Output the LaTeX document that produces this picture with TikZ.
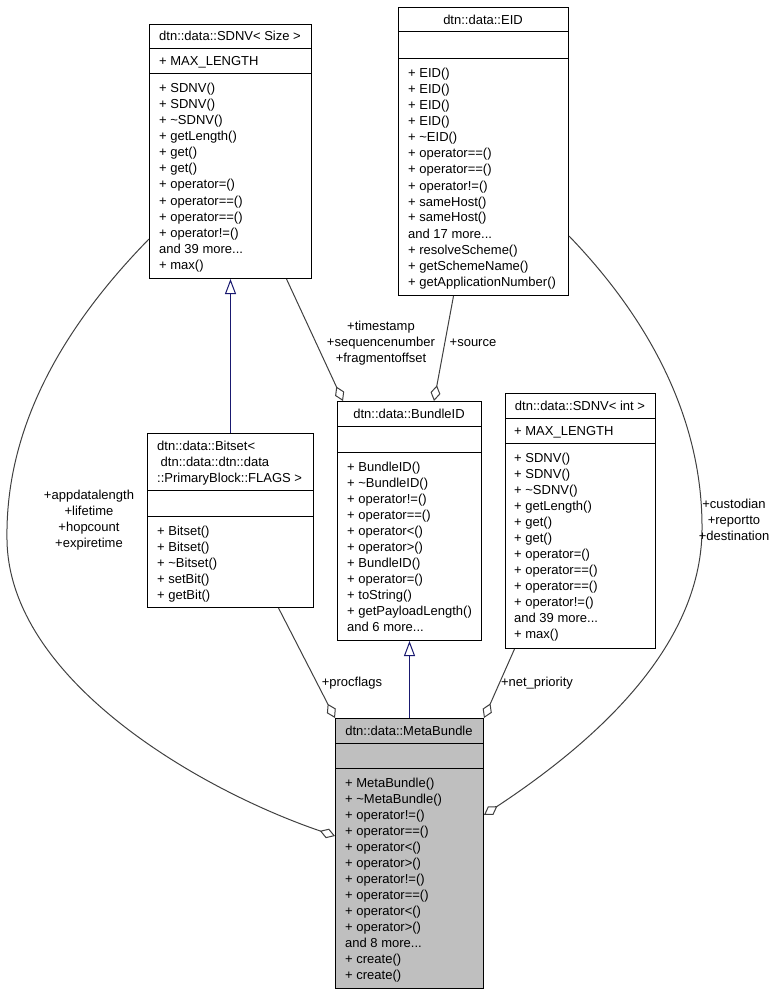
\documentclass[tikz,border=0pt]{standalone}
\usepackage{fontspec}
\setmainfont{Liberation Sans}
\usetikzlibrary{arrows.meta}
\definecolor{edgegray}{HTML}{404040}
\definecolor{inhblue}{HTML}{191970}
\definecolor{metafill}{HTML}{BFBFBF}
\newcounter{lcnt}
\newcommand\fsz{\fontsize{13}{16}\selectfont}
\newcommand\Lstart[3]{\gdef\Lpre{#1}\gdef\Lx{#2}\gdef\Ly{#3}\setcounter{lcnt}{0}}
\newcommand\Litem[1]{\stepcounter{lcnt}\node[txt] (\Lpre\arabic{lcnt}) at (\Lx,\Ly) {#1};\pgfmathsetmacro\Ltmp{\Ly+16}\global\let\Ly\Ltmp}
\begin{document}
\begin{tikzpicture}[x=1pt,y=-1pt,
  box/.style={draw=black, fill=white, line width=1pt, inner sep=0pt, anchor=north west},
  sepline/.style={draw=black, line width=1pt},
  txt/.style={inner sep=0pt, anchor=base west, font=\fsz},
  ttl/.style={inner sep=0pt, anchor=base, font=\fsz},
  lbl/.style={inner sep=0pt, align=center, font=\fsz},
  inh/.style={draw=inhblue, line width=1pt, -{Triangle[fill=white, length=15pt, width=11pt]}},
  agg/.style={draw=edgegray, line width=1pt, -{Diamond[fill=white, length=16pt, width=10pt]}}]
\useasboundingbox (0,0) rectangle (775,995);

% ---------- SDNV< Size >
\node[box, minimum width=162pt, minimum height=254pt] (sS) at (149,24) {};
\draw[sepline] ([yshift=-25pt]sS.north west) -- ([yshift=-25pt]sS.north east);
\draw[sepline] ([yshift=-50pt]sS.north west) -- ([yshift=-50pt]sS.north east);
\node[ttl] (sSt) at (230,41) {dtn::data::SDNV< Size >};
\node[txt] (sSa) at (159,66) {+ MAX\_LENGTH};
\Lstart{sSm}{159}{93}
\Litem{+ SDNV()}\Litem{+ SDNV()}\Litem{+ \textasciitilde SDNV()}\Litem{+ getLength()}
\Litem{+ get()}\Litem{+ get()}\Litem{+ operator=()}\Litem{+ operator==()}
\Litem{+ operator==()}\Litem{+ operator!=()}\Litem{and 39 more...}\Litem{+ max()}

% ---------- EID
\node[box, minimum width=170pt, minimum height=288pt] (eid) at (398,7) {};
\draw[sepline] ([yshift=-25pt]eid.north west) -- ([yshift=-25pt]eid.north east);
\draw[sepline] ([yshift=-51.5pt]eid.north west) -- ([yshift=-51.5pt]eid.north east);
\node[ttl] (eidt) at (483,24.5) {dtn::data::EID};
\Lstart{eidm}{408}{78}
\Litem{+ EID()}\Litem{+ EID()}\Litem{+ EID()}\Litem{+ EID()}\Litem{+ \textasciitilde EID()}
\Litem{+ operator==()}\Litem{+ operator==()}\Litem{+ operator!=()}\Litem{+ sameHost()}
\Litem{+ sameHost()}\Litem{and 17 more...}\Litem{+ resolveScheme()}\Litem{+ getSchemeName()}
\Litem{+ getApplicationNumber()}

% ---------- Bitset
\node[box, minimum width=166pt, minimum height=174pt] (bitset) at (147,433) {};
\draw[sepline] ([yshift=-57pt]bitset.north west) -- ([yshift=-57pt]bitset.north east);
\draw[sepline] ([yshift=-83pt]bitset.north west) -- ([yshift=-83pt]bitset.north east);
\Lstart{btt}{157}{450}
\Litem{dtn::data::Bitset<}\Litem{\hspace*{3.5pt}dtn::data::dtn::data}\Litem{::PrimaryBlock::FLAGS >}
\Lstart{btm}{157}{535}
\Litem{+ Bitset()}\Litem{+ Bitset()}\Litem{+ \textasciitilde Bitset()}\Litem{+ setBit()}\Litem{+ getBit()}

% ---------- BundleID
\node[box, minimum width=144pt, minimum height=239pt] (bundle) at (337,401) {};
\draw[sepline] ([yshift=-25pt]bundle.north west) -- ([yshift=-25pt]bundle.north east);
\draw[sepline] ([yshift=-51pt]bundle.north west) -- ([yshift=-51pt]bundle.north east);
\node[ttl] (bundlet) at (409,418) {dtn::data::BundleID};
\Lstart{bdm}{347}{471}
\Litem{+ BundleID()}\Litem{+ \textasciitilde BundleID()}\Litem{+ operator!=()}\Litem{+ operator==()}
\Litem{+ operator<()}\Litem{+ operator>()}\Litem{+ BundleID()}\Litem{+ operator=()}
\Litem{+ toString()}\Litem{+ getPayloadLength()}\Litem{and 6 more...}

% ---------- SDNV< int >
\node[box, minimum width=150pt, minimum height=255pt] (sI) at (505,393) {};
\draw[sepline] ([yshift=-25pt]sI.north west) -- ([yshift=-25pt]sI.north east);
\draw[sepline] ([yshift=-50pt]sI.north west) -- ([yshift=-50pt]sI.north east);
\node[ttl] (sIt) at (580,410) {dtn::data::SDNV< int >};
\node[txt] (sIa) at (514,435) {+ MAX\_LENGTH};
\Lstart{sIm}{514}{462}
\Litem{+ SDNV()}\Litem{+ SDNV()}\Litem{+ \textasciitilde SDNV()}\Litem{+ getLength()}
\Litem{+ get()}\Litem{+ get()}\Litem{+ operator=()}\Litem{+ operator==()}
\Litem{+ operator==()}\Litem{+ operator!=()}\Litem{and 39 more...}\Litem{+ max()}

% ---------- MetaBundle
\node[box, fill=metafill, minimum width=148pt, minimum height=270pt] (meta) at (335,718) {};
\draw[sepline] ([yshift=-25pt]meta.north west) -- ([yshift=-25pt]meta.north east);
\draw[sepline] ([yshift=-50pt]meta.north west) -- ([yshift=-50pt]meta.north east);
\node[ttl] (metat) at (409,735) {dtn::data::MetaBundle};
\Lstart{mbm}{345}{787}
\Litem{+ MetaBundle()}\Litem{+ \textasciitilde MetaBundle()}\Litem{+ operator!=()}\Litem{+ operator==()}
\Litem{+ operator<()}\Litem{+ operator>()}\Litem{+ operator!=()}\Litem{+ operator==()}
\Litem{+ operator<()}\Litem{+ operator>()}\Litem{and 8 more...}\Litem{+ create()}\Litem{+ create()}

% ---------- connectors
\draw[inh] (bitset.north) -- (sS.south);
\draw[inh] (meta.north) -- (bundle.south);
\draw[agg] ([xshift=56pt]sS.south) -- ([xshift=6pt]bundle.north west);
\draw[agg] ([xshift=-30pt]eid.south) -- ([xshift=-48pt]bundle.north east);
\draw[agg] ([xshift=48pt]bitset.south) -- (meta.north west);
\draw[agg] ([xshift=-66pt]sI.south) -- (meta.north east);
\draw[agg] ([yshift=40pt]sS.south west) .. controls (60,330) and (5,430) .. (7,540)
  .. controls (9,680) and (200,790) .. ([yshift=-118pt]meta.north west);
\draw[agg] ([yshift=60pt]eid.south east) .. controls (650,320) and (703,420) .. (702,530)
  .. controls (701,650) and (590,745) .. ([yshift=-97pt]meta.north east);

% ---------- labels
\node[lbl] (l3) at (381,343) {+timestamp\\+sequencenumber\\+fragmentoffset};
\node[lbl] (l4) at (473,343) {+source};
\node[lbl] (l5) at (352,683) {+procflags};
\node[lbl] (l6) at (537,683) {+net\_priority};
\node[lbl] (l7) at (89,520) {+appdatalength\\+lifetime\\+hopcount\\+expiretime};
\node[lbl] (l8) at (734,520) {+custodian\\+reportto\\+destination};
\end{tikzpicture}
\end{document}
